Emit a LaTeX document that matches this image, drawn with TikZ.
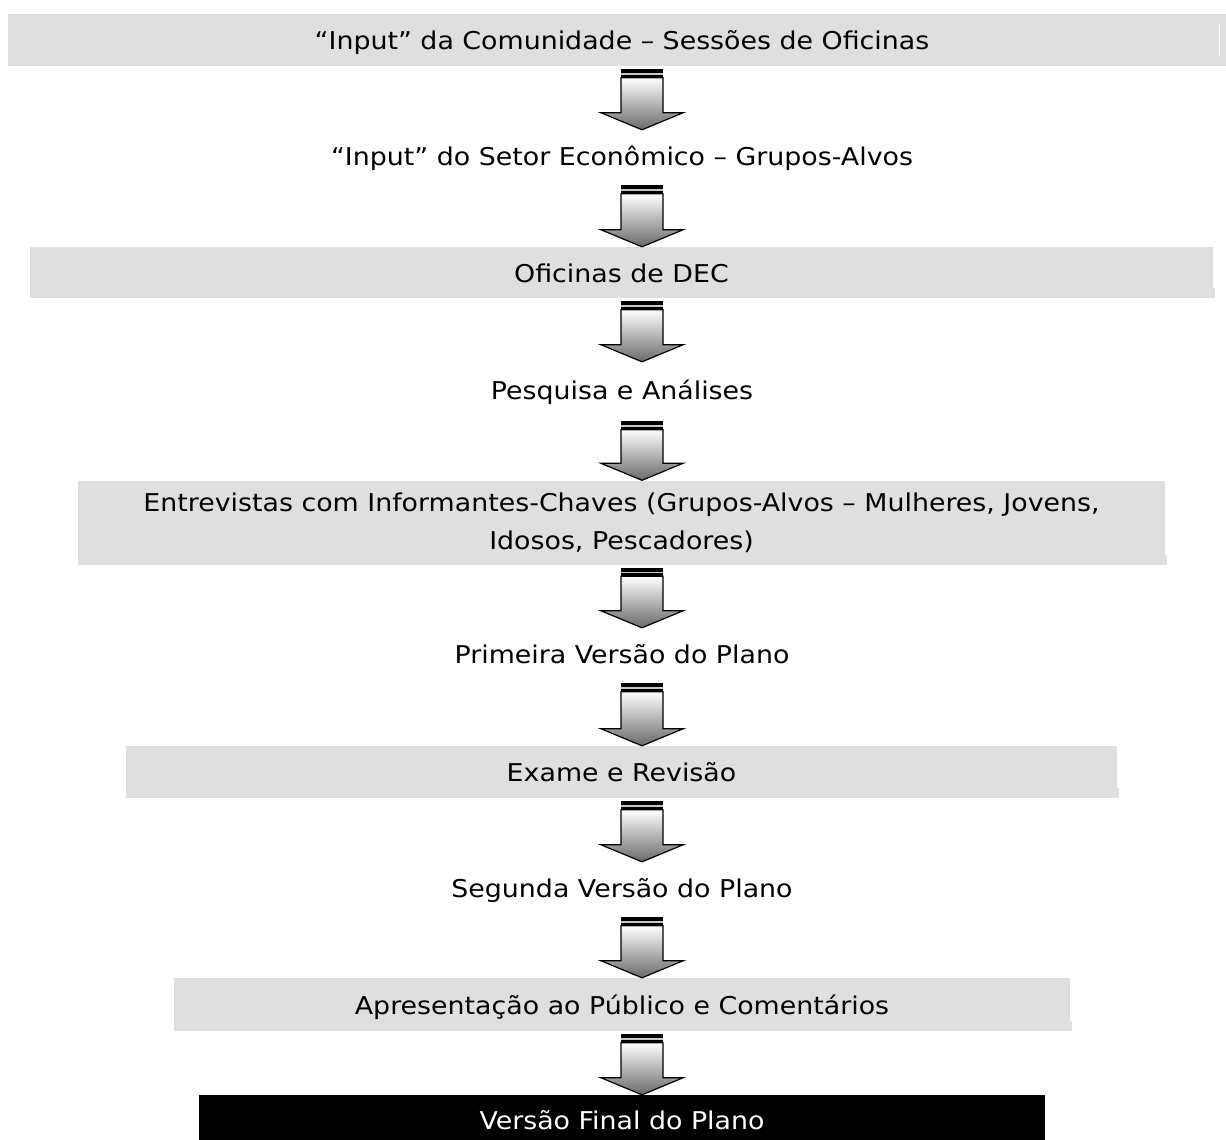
\documentclass[tikz,border=0pt]{standalone}
\usepackage{fontspec}
\setmainfont[FakeStretch=1.095]{DejaVu Sans}
\usetikzlibrary{calc}
\definecolor{boxgray}{RGB}{223,223,223}
\definecolor{arrowdark}{RGB}{105,105,105}
\newcommand\stagefont{\fontsize{24.5}{38}\selectfont}
\tikzset{
  stagebox/.style={fill=boxgray, inner sep=0pt, align=center, font=\stagefont},
  oneline/.style={text height=24pt, text depth=4.5pt},
  stagetext/.style={inner sep=0pt, align=center, font=\stagefont, minimum width=900pt, oneline},
  finalbox/.style={fill=black, text=white, inner sep=0pt, align=center, font=\stagefont},
  arrowbody/.style={top color=white, bottom color=arrowdark, draw=black, line width=1.2pt, line join=miter},
  notch/.style={fill=boxgray}
}
\newcommand\stagearrow[2]{%
  \coordinate (arT) at ($(#1.south -| ax)+(0,3)$);
  \coordinate (arB) at (#2.north -| ax);
  \fill[black] ($(arT)+(-21,0)$) rectangle ($(arT)+(21,4)$);
  \fill[gray!45] ($(arT)+(-21,4)$) rectangle ($(arT)+(21,5.5)$);
  \fill[black] ($(arT)+(-21,5.5)$) rectangle ($(arT)+(21,8.5)$);
  \draw[arrowbody] ($(arT)+(-21,8.5)$) -- ($(arT)+(21,8.5)$) -- ($(arB)+(21,-17)$) -- ($(arB)+(41,-17)$) -- (arB) -- ($(arB)+(-41,-17)$) -- ($(arB)+(-21,-17)$) -- cycle;
}
\begin{document}
\begin{tikzpicture}[x=1pt,y=-1pt]
\clip (0,0) rectangle (1226,1140);
\fill[white] (0,0) rectangle (1226,1140);
\coordinate (ax) at (642,0);

\node[stagebox, oneline, minimum width=1228pt, minimum height=52pt] (b1) at (622,40) {“Input” da Comunidade – Sessões de Oficinas};
\node[stagetext, minimum height=52pt] (t2) at (622,156) {“Input” do Setor Econômico – Grupos-Alvos};
\node[stagebox, oneline, minimum width=1183pt, minimum height=51pt] (b3) at (621.5,272.5) {Oficinas de DEC};
\node[stagetext, minimum height=56pt] (t4) at (622,390) {Pesquisa e Análises};
\node[stagebox, minimum width=1087pt, minimum height=84pt] (b5) at (621.5,522.5) {Entrevistas com Informantes-Chaves (Grupos-Alvos – Mulheres, Jovens,\\ Idosos, Pescadores)};
\node[stagetext, minimum height=52pt] (t6) at (622,654) {Primeira Versão do Plano};
\node[stagebox, oneline, minimum width=991pt, minimum height=52pt] (b7) at (621.5,772) {Exame e Revisão};
\node[stagetext, minimum height=52pt] (t8) at (622,888) {Segunda Versão do Plano};
\node[stagebox, oneline, minimum width=896pt, minimum height=53pt] (b9) at (622,1004.5) {Apresentação ao Público e Comentários};
\node[finalbox, minimum width=846pt, minimum height=50pt] (b10) at (622,1120) {Versão Final do Plano};

% small edge notches of the original
\draw[white, line width=1pt] (1219,24) -- (1219,56);
\fill[notch] (b3.south east) rectangle ++(2,-10);
\fill[notch] (b5.south east) rectangle ++(2,-10);
\fill[notch] (b7.south east) rectangle ++(2,-10);
\fill[notch] (b9.south east) rectangle ++(2,-10);

\stagearrow{b1}{t2}
\stagearrow{t2}{b3}
\stagearrow{b3}{t4}
\stagearrow{t4}{b5}
\stagearrow{b5}{t6}
\stagearrow{t6}{b7}
\stagearrow{b7}{t8}
\stagearrow{t8}{b9}
\stagearrow{b9}{b10}
\end{tikzpicture}
\end{document}
